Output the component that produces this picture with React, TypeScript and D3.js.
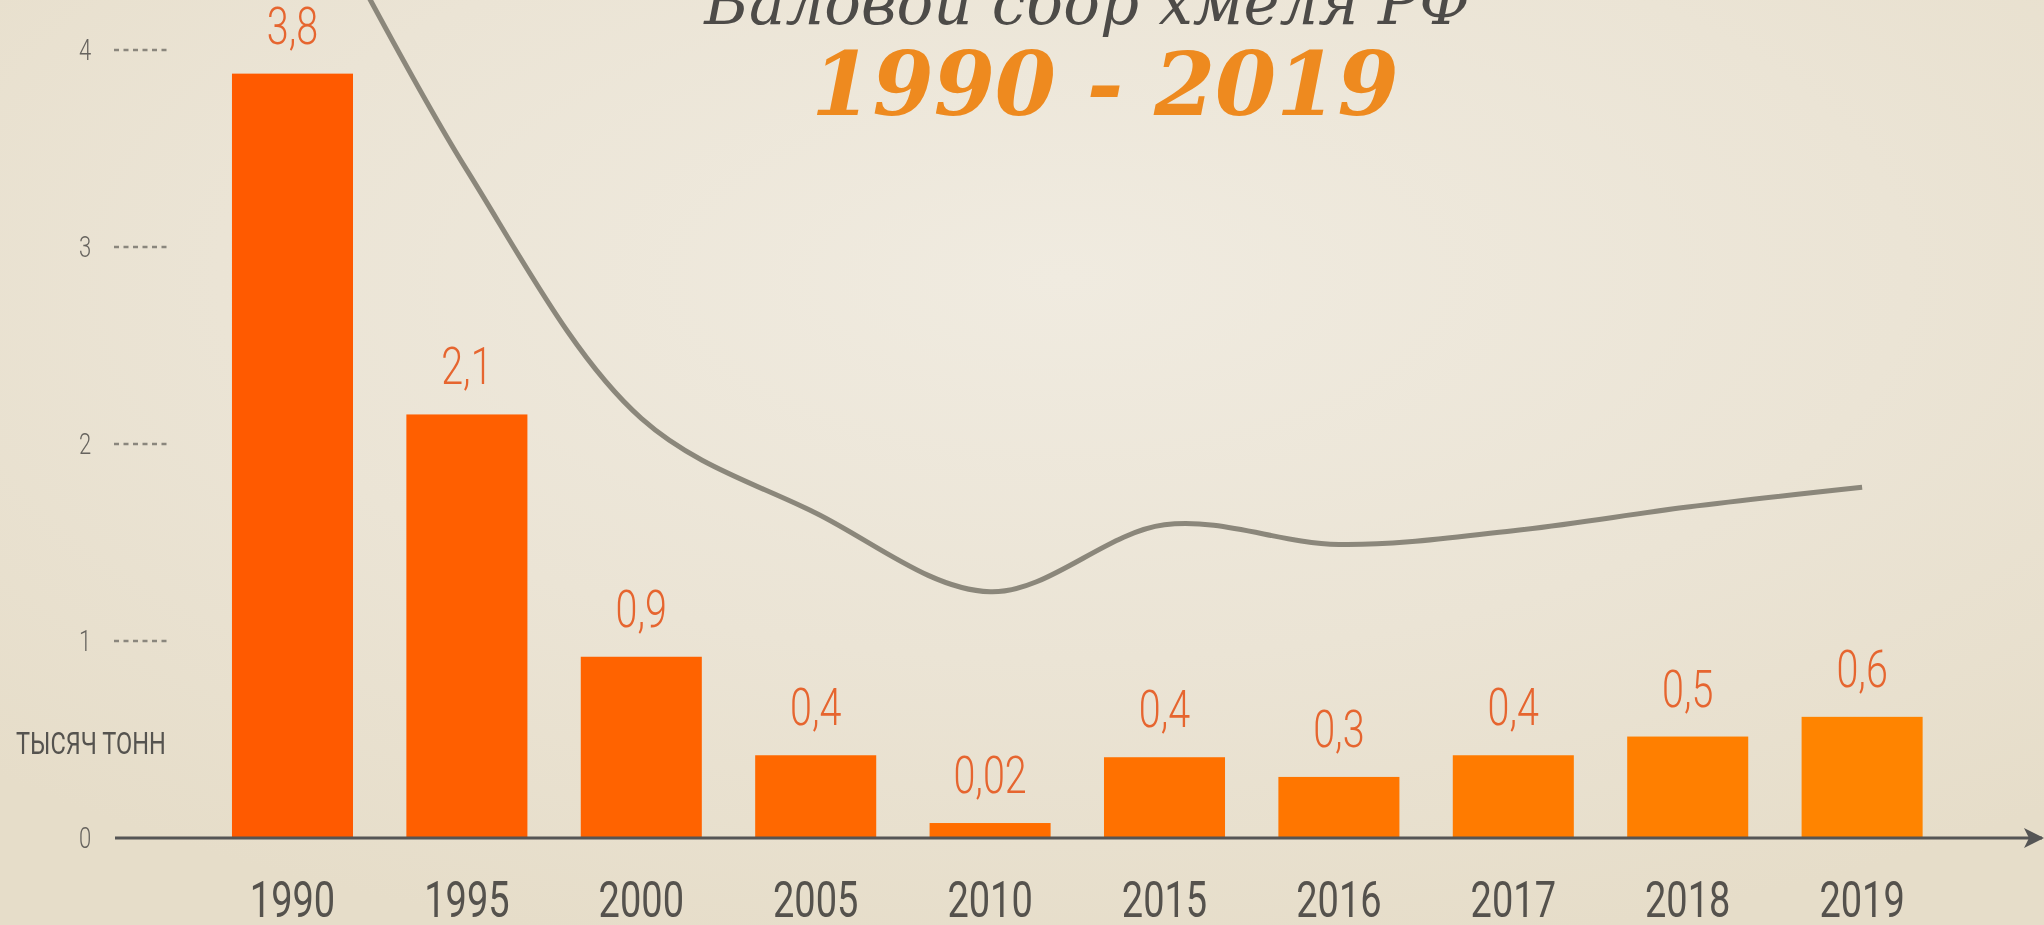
import React, { useEffect, useRef } from 'react'
import * as d3 from 'd3'

// years on the x axis
const years = ['1990', '1995', '2000', '2005', '2010', '2015', '2016', '2017', '2018', '2019']
// bar heights (thousand tonnes)
const barValues = [3.88, 2.15, 0.92, 0.42, 0.076, 0.41, 0.31, 0.42, 0.515, 0.615]
// labels printed above the bars
const barLabels = ['3,8', '2,1', '0,9', '0,4', '0,02', '0,4', '0,3', '0,4', '0,5', '0,6']
// grey trend curve, same units as the y axis
const lineValues = [5.0, 3.39, 2.13, 1.65, 1.25, 1.59, 1.49, 1.56, 1.68, 1.78]
// y axis ticks
const yTicks = [0, 1, 2, 3, 4]

const title = 'Валовой сбор хмеля РФ'
const subtitle = '1990 - 2019'
const unitLabel = 'ТЫСЯЧ ТОНН'

const W = 2044
const H = 925
const narrow = 'Roboto, "DejaVu Sans Condensed", sans-serif'
const squeeze = 0.76

function HopChart() {
  const ref = useRef<SVGSVGElement>(null)

  useEffect(() => {
    const svg = d3.select(ref.current)
    svg.selectAll('*').remove()

    const defs = svg.append('defs')
    const bg = defs.append('radialGradient')
      .attr('id', 'bg')
      .attr('cx', 0.52).attr('cy', 0.3).attr('r', 0.75)
    bg.append('stop').attr('offset', '0%').attr('stop-color', '#f0ebe0')
    bg.append('stop').attr('offset', '55%').attr('stop-color', '#ebe4d5')
    bg.append('stop').attr('offset', '100%').attr('stop-color', '#e6ddc9')

    defs.append('marker')
      .attr('id', 'arrow')
      .attr('viewBox', '0 0 20 20')
      .attr('refX', 18).attr('refY', 10)
      .attr('markerWidth', 20).attr('markerHeight', 20)
      .attr('markerUnits', 'userSpaceOnUse')
      .attr('orient', 'auto')
      .append('path')
      .attr('d', 'M0,0 L20,10 L0,20 L5,10 Z')
      .attr('fill', '#555')

    svg.append('rect').attr('width', W).attr('height', H).attr('fill', 'url(#bg)')

    const x = d3.scaleBand()
      .domain(years)
      .range([178.6, 1976])
      .padding(0.306)

    const y = d3.scaleLinear()
      .domain([0, 4])
      .range([838, 50])

    const barColor = d3.scaleLinear<string>()
      .domain([0, years.length - 1])
      .range(['#ff5a00', '#ff8400'])

    // condensed text: squeeze a normal font horizontally
    const narrowText = (parent: any, tx: number, ty: number, size: number, color: string, s: string, weight = 400, anchor = 'middle') => {
      parent.append('text')
        .attr('transform', `translate(${tx},${ty}) scale(${squeeze},1)`)
        .attr('text-anchor', anchor)
        .style('font-family', narrow)
        .style('font-weight', weight)
        .style('font-size', size + 'px')
        .attr('fill', color)
        .text(s)
    }

    // title
    svg.append('text')
      .attr('x', 1087).attr('y', 24)
      .attr('text-anchor', 'middle')
      .style('font-family', '"DejaVu Serif", serif')
      .style('font-style', 'italic')
      .style('font-size', '61px')
      .attr('fill', '#4d4b48')
      .text(title)

    svg.append('text')
      .attr('x', 1105).attr('y', 115)
      .attr('text-anchor', 'middle')
      .style('font-family', '"DejaVu Serif", serif')
      .style('font-style', 'italic')
      .style('font-weight', 'bold')
      .style('font-size', '88px')
      .attr('fill', '#ee8a1f')
      .text(subtitle)

    // y ticks
    const tickG = svg.append('g')
    yTicks.forEach(t => {
      narrowText(tickG, 85, y(t) + 10, 29, '#66635e', String(t), 300)
      if (t > 0) {
        tickG.append('line')
          .attr('x1', 114).attr('x2', 168)
          .attr('y1', y(t)).attr('y2', y(t))
          .attr('stroke', '#8a867d')
          .attr('stroke-width', 2.5)
          .attr('stroke-dasharray', '5 4.5')
      }
    })

    narrowText(svg, 16, 754, 31, '#55534f', unitLabel, 400, 'start')

    // bars
    svg.append('g').selectAll('rect')
      .data(barValues)
      .enter()
      .append('rect')
      .attr('x', (d, i) => x(years[i])!)
      .attr('y', d => y(d))
      .attr('width', x.bandwidth())
      .attr('height', d => y(0) - y(d))
      .attr('fill', (d, i) => barColor(i))

    const labelG = svg.append('g')
    barValues.forEach((v, i) => {
      narrowText(labelG, x(years[i])! + x.bandwidth() / 2, y(v) - 30, 52, '#e6652f', barLabels[i], 300)
    })

    // x axis with arrow
    svg.append('line')
      .attr('x1', 115).attr('x2', 2042)
      .attr('y1', y(0)).attr('y2', y(0))
      .attr('stroke', '#555')
      .attr('stroke-width', 3)
      .attr('marker-end', 'url(#arrow)')

    const yearG = svg.append('g')
    years.forEach(yr => {
      narrowText(yearG, x(yr)! + x.bandwidth() / 2, 917, 50, '#55524d', yr, 400)
    })

    // trend curve
    const line = d3.line<number>()
      .x((d, i) => x(years[i])! + x.bandwidth() / 2)
      .y(d => y(d))
      .curve(d3.curveCatmullRom.alpha(0.5))

    svg.append('path')
      .datum(lineValues)
      .attr('d', line)
      .attr('fill', 'none')
      .attr('stroke', '#8b877b')
      .attr('stroke-width', 5)
  }, [])

  return <svg ref={ref} width={W} height={H} style={{ position: 'fixed', left: 0, top: 0, display: 'block' }} />
}

export default function App() {
  return <HopChart />
}
